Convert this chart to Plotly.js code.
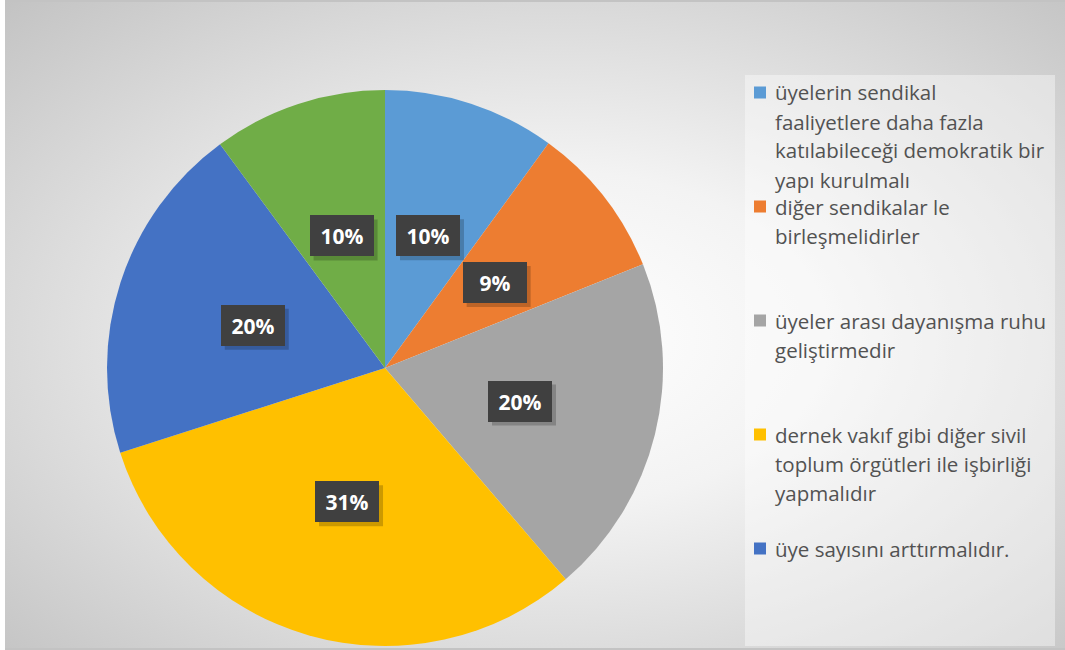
<!DOCTYPE html>
<html>
<head>
<meta charset="utf-8">
<script src="https://cdn.plot.ly/plotly-3.0.1.min.js"></script>
<style>
  html, body { margin:0; padding:0; background:#ffffff; }
  #bg { position:absolute; left:5px; top:0; width:1060px; height:646px;
        border-top:2px solid #c3c3c3; border-bottom:2px solid #c3c3c3;
        background: radial-gradient(ellipse farthest-corner at 52% 52%, #ffffff 0%, #f3f3f3 35%, #c3c3c3 100%); }
  #chart { position:absolute; left:0; top:0; width:1065px; height:650px; }
</style>
</head>
<body>
<div id="bg"></div>
<div id="chart"></div>
<script>
// ---- data ----
const categories = [
  "üyelerin sendikal\nfaaliyetlere daha fazla\nkatılabileceği demokratik bir\nyapı kurulmalı",
  "diğer sendikalar le\nbirleşmelidirler",
  "üyeler arası dayanışma ruhu\ngeliştirmedir",
  "dernek vakıf gibi diğer sivil\ntoplum örgütleri ile işbirliği\nyapmalıdır",
  "üye sayısını arttırmalıdır.",
  "diğer"
];
const values = [10, 8.9, 19.8, 31.3, 19.8, 10.1];
const colors = ["#5B9BD5", "#ED7D31", "#A5A5A5", "#FFC000", "#4472C4", "#70AD47"];
const legendCount = 5; // only the first five entries appear in the legend

// ---- layout constants ----
const W = 1065, H = 650;
const dom = { x: [107 / W, 663 / W], y: [1 - 646 / H, 1 - 90 / H] };

const trace = {
  type: "pie",
  labels: categories.map(c => c.replace(/\n/g, " ")),
  values: values,
  sort: false,
  direction: "clockwise",
  rotation: 0,
  marker: { colors: colors, line: { width: 0 } },
  textinfo: "none",
  textposition: "none",
  domain: dom,
  hoverinfo: "label+percent",
  showlegend: false
};

const shapes = [{
  type: "rect", xref: "paper", yref: "paper",
  x0: 745 / W, x1: 1055 / W, y0: 1 - 646 / H, y1: 1 - 75 / H,
  fillcolor: "rgba(255,255,255,0.4)", line: { width: 0 }, layer: "below"
}];

// label annotations computed from the data and pie geometry
const total = values.reduce((a, b) => a + b, 0);
const cxP = (dom.x[0] + dom.x[1]) / 2, cyP = (dom.y[0] + dom.y[1]) / 2;
const Rpx = Math.min(W * (dom.x[1] - dom.x[0]), H * (dom.y[1] - dom.y[0])) / 2;
const boxW = 64, boxH = 41, sh = 4;
const annotations = [];
let cum = 0;
values.forEach((v, i) => {
  const mid = (cum + v / 2) / total * 2 * Math.PI;
  cum += v;
  const r = 0.5 * Rpx;
  const x = cxP + r * Math.sin(mid) / W;
  const y = cyP + r * Math.cos(mid) / H;
  const txt = "<b>" + Math.round(v / total * 100) + "%</b>";
  shapes.push({ type: "rect", xref: "paper", yref: "paper", layer: "above",
    x0: x + (-boxW / 2 + sh) / W, x1: x + (boxW / 2 + sh) / W,
    y0: y - (boxH / 2 + sh) / H, y1: y + (boxH / 2 - sh) / H,
    fillcolor: "rgba(0,0,0,0.2)", line: { width: 0 } });
  annotations.push({ x: x, y: y, xref: "paper", yref: "paper", xanchor: "center", yanchor: "middle",
    text: txt, showarrow: false, bgcolor: "#404040", borderpad: 6, borderwidth: 1, bordercolor: "#404040",
    width: boxW - 14, height: boxH - 14,
    font: { family: "Open Sans", size: 21, color: "#ffffff" } });
});

// custom legend (first five entries)
const legTop = 92.5, legStep = 114, lineH = 29;
for (let i = 0; i < legendCount; i++) {
  const yc = legTop + i * legStep;
  shapes.push({ type: "rect", xref: "paper", yref: "paper",
    x0: 754 / W, x1: 766 / W, y0: 1 - (yc + 6) / H, y1: 1 - (yc - 6) / H,
    fillcolor: colors[i], line: { width: 0 } });
  categories[i].split("\n").forEach((ln, k) => {
    annotations.push({ x: 773 / W, y: 1 - (yc + k * lineH) / H, xref: "paper", yref: "paper",
      xanchor: "left", yanchor: "middle", text: ln, showarrow: false,
      font: { family: "Open Sans", size: 20.5, color: "#525252" } });
  });
}

const layout = {
  width: W, height: H,
  margin: { l: 0, r: 0, t: 0, b: 0 },
  paper_bgcolor: "rgba(0,0,0,0)",
  plot_bgcolor: "rgba(0,0,0,0)",
  showlegend: false,
  annotations: annotations,
  shapes: shapes
};

Plotly.newPlot("chart", [trace], layout, { displayModeBar: false, staticPlot: true });
</script>
</body>
</html>
